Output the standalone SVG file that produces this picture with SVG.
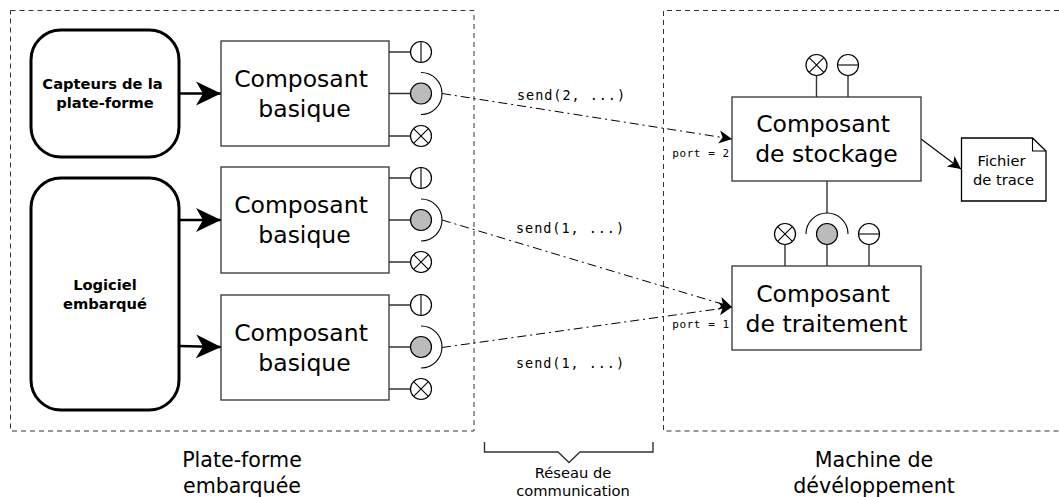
<svg xmlns="http://www.w3.org/2000/svg" width="1059" height="497" viewBox="0 0 1059 497">
<style>
text{font-family:"DejaVu Sans",sans-serif;fill:#000;text-anchor:middle}
.m{font-family:"DejaVu Sans Mono",monospace}
.s{font-size:13.5px;letter-spacing:.95px}
.t{font-size:11px;letter-spacing:.55px}
.c{fill:#fff;stroke:#333;stroke-width:1.3}
.p{fill:#fff;stroke:#000;stroke-width:1.2}
.g{fill:#bbb;stroke:#000;stroke-width:1.2}
.l{fill:none;stroke:#333;stroke-width:1.4}
.a{fill:none;stroke:#000;stroke-width:1.1}
.r{fill:#fff;stroke:#000;stroke-width:3}
.d{fill:none;stroke:#333;stroke-width:1;stroke-dasharray:5 4}
.dd{fill:none;stroke:#000;stroke-width:1;stroke-dasharray:9 4 2 4}
.big{font-size:23.5px}
.b{font-size:14.7px;font-weight:bold}
.n{font-size:14.7px}
.h{font-size:20.6px}
</style>
<defs>
<marker id="ah" markerUnits="userSpaceOnUse" markerWidth="26" markerHeight="26" refX="25" refY="13" orient="auto"><path d="M0,1 L25,13 L0,25 L7,13 Z" fill="#000"/></marker>
<marker id="as" markerUnits="userSpaceOnUse" markerWidth="16" markerHeight="16" refX="13" refY="8" orient="auto"><path d="M0,1.500 L13,8 L0,14.500 L3.500,8 Z" fill="#000"/></marker>
<g id="pv"><circle class="p" r="10.5"/><path class="a" d="M0,-10.5V10.5"/></g>
<g id="ph"><circle class="p" r="10.5"/><path class="a" d="M-10.5,0H10.5"/></g>
<g id="px"><circle class="p" r="10.5"/><path class="a" d="M-7.4,-7.4L7.4,7.4M-7.4,7.4L7.4,-7.4"/></g>
</defs>
<rect width="1059" height="497" fill="#fff"/>
<g id="frames">
<rect class="d" x="10.5" y="10.5" width="463.5" height="420.5"/>
<path class="d" d="M1059,10.5H663.5V431H1059"/>
</g>
<g id="connectors">
<path class="l" style="stroke:#000;stroke-width:2.5" d="M179,93.5H221" marker-end="url(#ah)"/>
<path class="l" style="stroke:#000;stroke-width:2.5" d="M179,220H221" marker-end="url(#ah)"/>
<path class="l" style="stroke:#000;stroke-width:2.5" d="M179,346L221,347" marker-end="url(#ah)"/>
<path class="dd" d="M442,93.5L732,139" marker-end="url(#as)"/>
<path class="dd" d="M442,220L732,307" marker-end="url(#as)"/>
<path class="dd" d="M442,347.500L732,307" marker-end="url(#as)"/>
<path class="a" d="M921,139L961,169" marker-end="url(#as)"/>
</g>
<g id="capteurs"><rect class="r" x="31" y="30" width="148" height="127" rx="30"/><text class="b" x="102.500" y="89">Capteurs de la</text><text class="b" x="105" y="108">plate-forme</text></g>
<g id="logiciel"><rect class="r" x="31" y="178" width="148" height="232" rx="30"/><text class="b" x="105" y="290">Logiciel</text><text class="b" x="105" y="308.500">embarqué</text></g>
<g id="basique1">
<path class="l" d="M389,52H411M389,93.5H411M389,136H411"/>
<rect class="c" x="221" y="41" width="168" height="105"/>
<text class="big" x="301" y="86.500">Composant</text><text class="big" x="304.500" y="116.500">basique</text>
<use href="#pv" x="421" y="52"/><circle class="g" cx="421" cy="93.500" r="10.5"/><use href="#px" x="421" y="136"/>
<path class="a" d="M421,72.500A21,21 0 0 1 421,114.500"/>
</g>
<g id="basique2">
<path class="l" d="M389,178H411M389,220H411M389,262H411"/>
<rect class="c" x="221" y="167" width="168" height="106"/>
<text class="big" x="301" y="212.500">Composant</text><text class="big" x="304.500" y="242.500">basique</text>
<use href="#pv" x="421" y="178"/><circle class="g" cx="421" cy="220" r="10.5"/><use href="#px" x="421" y="262"/>
<path class="a" d="M421,199A21,21 0 0 1 421,241"/>
</g>
<g id="basique3">
<path class="l" d="M389,305H411M389,347H411M389,389H411"/>
<rect class="c" x="221" y="295" width="168" height="105"/>
<text class="big" x="301" y="340.500">Composant</text><text class="big" x="304.500" y="370.500">basique</text>
<use href="#pv" x="421" y="305"/><circle class="g" cx="421" cy="347" r="10.5"/><use href="#px" x="421" y="389"/>
<path class="a" d="M421,326A21,21 0 0 1 421,368"/>
</g>
<g id="stockage">
<path class="l" d="M816.500,76V97M848,76V97M827,181V213"/>
<rect class="c" x="732" y="97" width="189" height="84"/>
<text class="big" x="823" y="132">Composant</text><text class="big" x="826.500" y="162">de stockage</text>
<use href="#px" x="816.500" y="65"/><use href="#ph" x="848" y="65"/>
</g>
<g id="traitement">
<path class="l" d="M785,245V266M827,245V266M869,245V266"/>
<rect class="c" x="732" y="266" width="189" height="84"/>
<text class="big" x="823" y="301.500">Composant</text><text class="big" x="826.500" y="331.500">de traitement</text>
<use href="#px" x="785" y="234"/><circle class="g" cx="827" cy="234" r="10.5"/><use href="#ph" x="869" y="234"/>
<path class="a" d="M806,234A21,21 0 0 1 848,234"/>
</g>
<g id="fichier">
<path class="c" style="stroke:#000" d="M961.500,138H1032.500L1046,151V201H961.500Z"/>
<path class="a" d="M1032.500,138V151H1046"/>
<text class="n" x="1001.500" y="166">Fichier</text><text class="n" x="1003.500" y="184.500">de trace</text>
</g>
<g id="labels">
<text class="m s" x="571.500" y="99.500">send(2, ...)</text>
<text class="m s" x="570.500" y="232.500">send(1, ...)</text>
<text class="m s" x="570.500" y="368">send(1, ...)</text>
<text class="m t" x="701" y="156.500">port = 2</text>
<text class="m t" x="701" y="327.500">port = 1</text>
<text class="h" x="242" y="466.500">Plate-forme</text>
<text class="h" x="242" y="492.500">embarquée</text>
<text class="h" x="874" y="466.500">Machine de</text>
<text class="h" x="874" y="492.500">dévéloppement</text>
<text class="n" x="573" y="478">Réseau de</text>
<text class="n" x="573" y="495.500">communication</text>
</g>
<path id="accolade" class="l" d="M484.500,442V452H558L569,462.500L580,452H653V442"/>
</svg>
